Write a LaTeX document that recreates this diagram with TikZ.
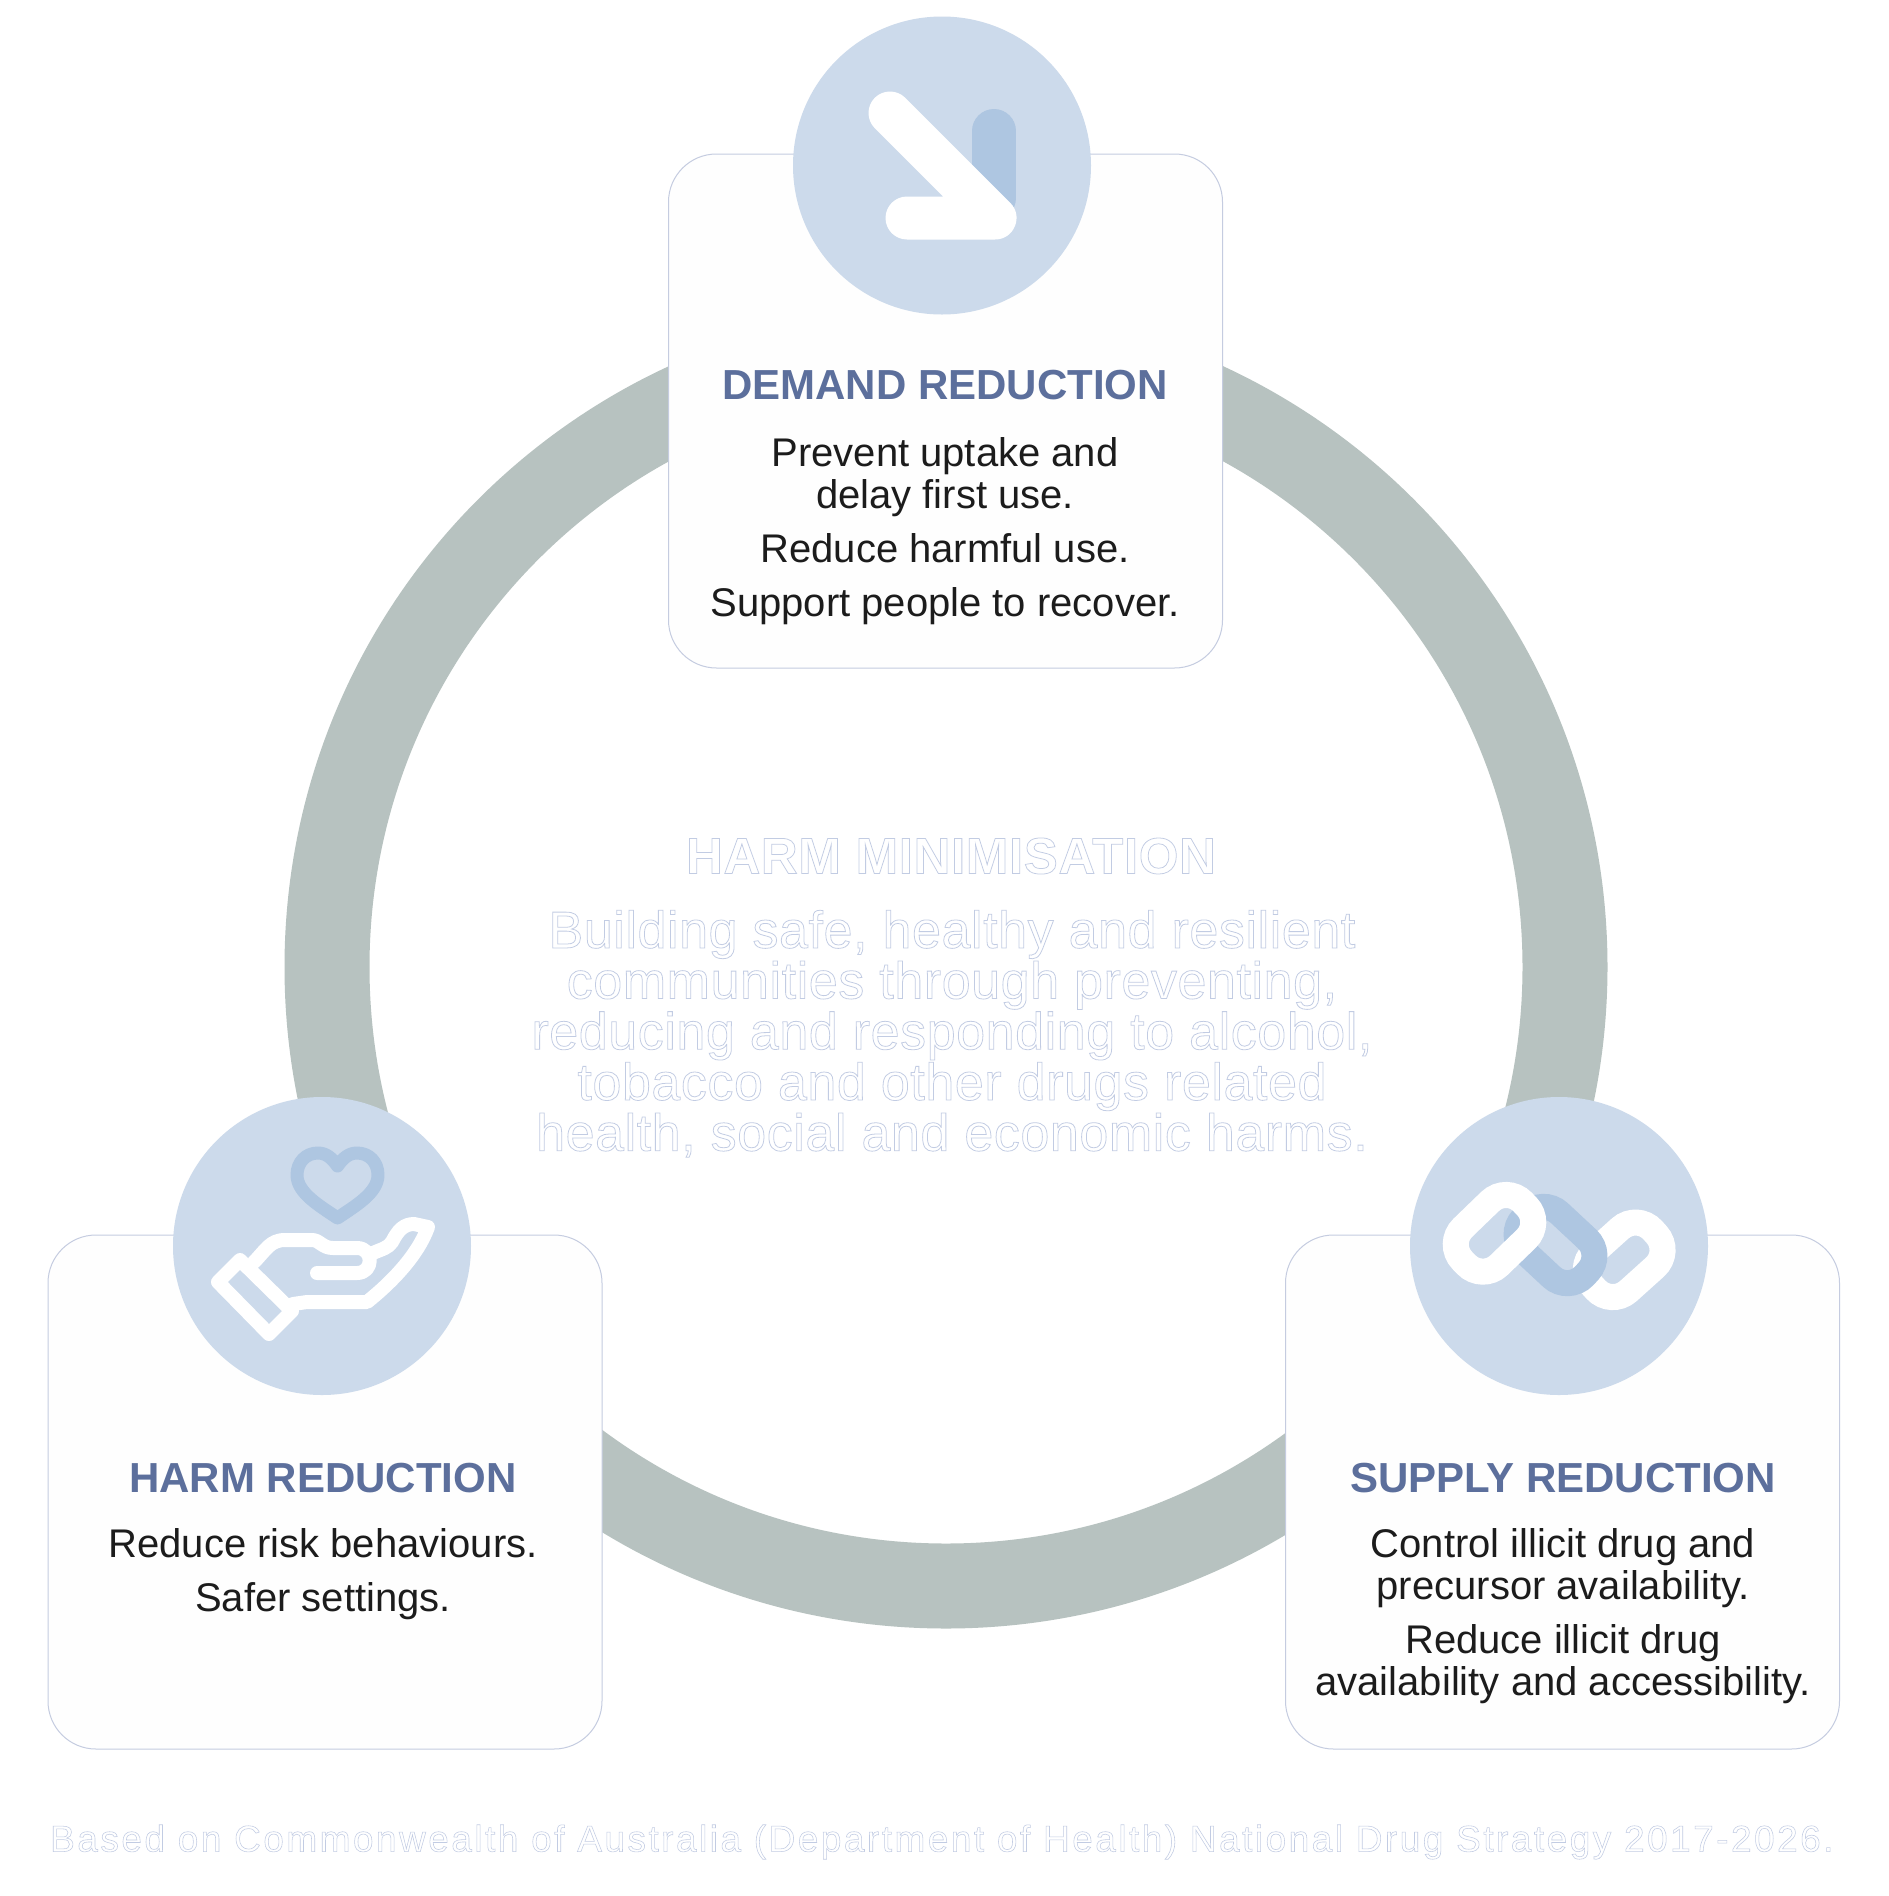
\documentclass[tikz,border=0pt]{standalone}
\usepackage{fontspec}
\setmainfont{Liberation Sans}
\newfontface\outlineface[FakeBold=1.5,LetterSpace=1.1]{Liberation Sans}
\newfontface\outlineboldface[FakeBold=1.5,LetterSpace=1.25]{Liberation Sans Bold}
\newfontface\noteface[FakeBold=1.5,LetterSpace=6.7]{Liberation Sans}
\definecolor{ringgrey}{HTML}{B7C2C0}
\definecolor{iconpale}{HTML}{CCDAEB}
\definecolor{icondark}{HTML}{AEC6E1}
\definecolor{boxline}{HTML}{C5CCE0}
\definecolor{boxfill}{HTML}{FEFEFE}
\definecolor{headblue}{HTML}{5C6F9C}
\definecolor{bodyink}{HTML}{1C1C1C}
\newcommand{\outlined}[1]{\special{pdf:bcolor [1 1 1] [0.76 0.8 0.89]}#1\special{pdf:ecolor}}
\newcommand{\chainlink}[4]{\draw[shift={#1},rotate=#2,rounded corners=23,line width=26,#4] (-#3,-26) rectangle (#3,26);}

\begin{document}
\begin{tikzpicture}[x=1pt, y=-1pt,
  panel/.style={draw=boxline, fill=boxfill, line width=1, rounded corners=48, minimum width=554, minimum height=514},
  disc/.style={circle, fill=iconpale, minimum size=298, inner sep=0},
  heading/.style={text=headblue, font=\fontsize{42}{46}\bfseries\selectfont, inner sep=0},
  bodytext/.style={text=bodyink, font=\fontsize{40}{42}\selectfont, align=center, anchor=north, inner sep=0},
  whitestroke/.style={draw=white, line cap=round, line join=round},
  darkstroke/.style={draw=icondark, line cap=round, line join=round}]
\useasboundingbox (0,0) rectangle (1888,1896);
\fill[white] (0,0) rectangle (1888,1896);

% ring behind the panels
\node[circle, draw=ringgrey, line width=85, minimum size=1238, inner sep=0] (ring) at (946,967) {};

\node[panel] (demandbox) at (945.5,411) {};
\node[panel] (harmbox) at (325,1492) {};
\node[panel] (supplybox) at (1562.5,1492) {};

\node[disc] (demanddisc) at (942,165.5) {};
\node[disc] (harmdisc) at (322,1246) {};
\node[disc] (supplydisc) at (1559,1246) {};

% arrow icon
\draw[darkstroke, line width=44] (994,131) -- (994,198);
\draw[whitestroke, line width=43] (890,113) -- (995,218) -- (907,218);

% heart and hand icon
\draw[darkstroke, line width=13] (337.5,1166) .. controls (332,1158) and (326,1153) .. (318,1153)
  .. controls (306,1153) and (297,1162) .. (297,1175)
  .. controls (297,1193) and (320,1206) .. (337.5,1218)
  .. controls (355,1206) and (378,1193) .. (378,1175)
  .. controls (378,1162) and (369,1153) .. (357,1153)
  .. controls (349,1153) and (343,1158) .. (337.5,1166);
\draw[whitestroke, line width=14] (240,1260) -- (218,1282) -- (269,1334) -- (292,1311) -- cycle;
\draw[whitestroke, line width=14] (254,1262) .. controls (266,1250) and (270,1240) .. (285,1240)
  -- (312,1240) .. controls (320,1240) and (322,1248) .. (333,1248) -- (357,1248)
  .. controls (374,1248) and (374,1273) .. (357,1273) -- (317,1273);
\draw[whitestroke, line width=14] (373,1253) .. controls (382,1249) and (388,1248) .. (392,1242)
  .. controls (398,1230) and (404,1224) .. (414,1224) -- (428,1227)
  .. controls (418,1255) and (392,1282) .. (367,1302) -- (307,1302) -- (293,1304);

% chain icon
\chainlink{(1624.2,1259.8)}{42}{41}{draw=white}
\chainlink{(1555.5,1245)}{-43}{42}{draw=icondark}
\chainlink{(1494.5,1233.3)}{44}{42}{draw=white}

% panel texts
\node[heading] (demandhead) at (945,385) {DEMAND REDUCTION};
\node[bodytext] (demandtext) at (945,437.5) {Prevent uptake and\\delay first use.\\[12pt]Reduce harmful use.\\[12pt]Support people to recover.};
\node[heading] (harmhead) at (323,1478) {HARM REDUCTION};
\node[bodytext] (harmtext) at (323,1528) {Reduce risk behaviours.\\[12pt]Safer settings.};
\node[heading] (supplyhead) at (1563,1478) {SUPPLY REDUCTION};
\node[bodytext] (supplytext) at (1563,1528) {Control illicit drug and\\precursor availability.\\[12pt]Reduce illicit drug\\availability and accessibility.};

% outlined texts
\node[font=\fontsize{51}{54}\outlineboldface, inner sep=0] (centrehead) at (951,856) {\outlined{HARM MINIMISATION}};
\node[font=\fontsize{52}{50.7}\outlineface, align=center, anchor=north, inner sep=0] (centretext) at (952,910)
  {\outlined{Building safe, healthy and resilient}\\\outlined{communities through preventing,}\\\outlined{reducing and responding to alcohol,}\\\outlined{tobacco and other drugs related}\\\outlined{health, social and economic harms.}};
\node[font=\fontsize{37}{40}\noteface, inner sep=0] (sourcenote) at (942,1842) {\outlined{Based on Commonwealth of Australia (Department of Health) National Drug Strategy 2017-2026.}};
\end{tikzpicture}
\end{document}
